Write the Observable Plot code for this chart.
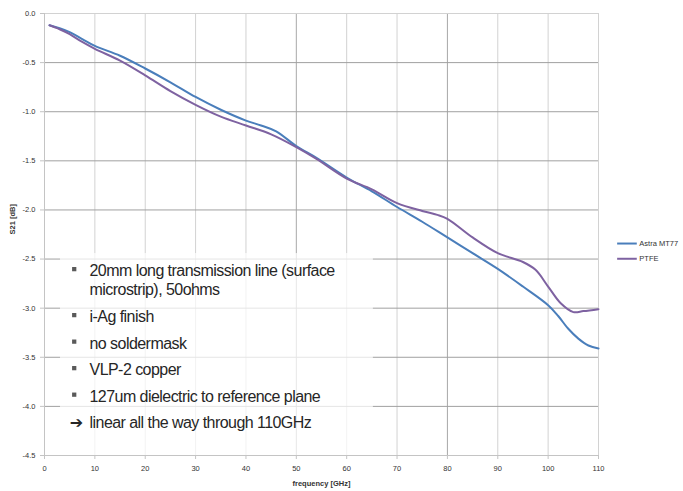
<!DOCTYPE html>
<html><head><meta charset="utf-8">
<script src="https://cdn.jsdelivr.net/npm/d3@7"></script>
<script src="https://cdn.jsdelivr.net/npm/@observablehq/plot@0.6"></script>
<style>
body{margin:0;background:#fff;}
.note text{letter-spacing:-0.55px;}
</style></head><body><div id="chart"></div>
<script>
// ---- data ----
const seriesNames = ["Astra MT77", "PTFE"];
const seriesColors = ["#4a7ebb", "#7e62a1"];
const freqAstra = [1,3,5,7.5,10,15,20,25,30,35,40,43,46,50,54,60,65,70,75,80,85,90,95,100,102,104,106,108,110];
const s21Astra  = [-0.12,-0.15,-0.19,-0.26,-0.33,-0.43,-0.56,-0.70,-0.85,-0.98,-1.09,-1.14,-1.20,-1.35,-1.47,-1.67,-1.81,-1.97,-2.12,-2.28,-2.44,-2.60,-2.78,-2.97,-3.08,-3.21,-3.31,-3.38,-3.41];
const freqPtfe  = [1,3,5,7.5,10,15,20,25,30,35,40,45,50,54,60,65,70,75,78,80,85,90,95,97.5,100,102.5,105,107,110];
const s21Ptfe   = [-0.12,-0.16,-0.21,-0.29,-0.36,-0.48,-0.63,-0.79,-0.93,-1.05,-1.14,-1.23,-1.36,-1.48,-1.68,-1.79,-1.93,-2.01,-2.05,-2.09,-2.28,-2.44,-2.53,-2.61,-2.78,-2.95,-3.04,-3.03,-3.01];
const xTicks = [0,10,20,30,40,50,60,70,80,90,100,110];
const yTicks = [0,-0.5,-1,-1.5,-2,-2.5,-3,-3.5,-4,-4.5];
const xLabel = "frequency [GHz]";
const yLabel = "S21 [dB]";
const notes = [
  "20mm long transmission line (surface\nmicrostrip), 50ohms",
  "i-Ag finish",
  "no soldermask",
  "VLP-2 copper",
  "127um dielectric to reference plane"
];
const conclusionArrow = "➔";
const conclusion = "linear all the way through 110GHz";

// ---- layout helpers (data units) ----
const noteX = 8.94, bulletX = 5.9, arrowX = 5.0;
const firstBlockY = -2.711, wrapHalf = 0.093, firstSingleY = -3.086, noteStep = 0.27;
const noteY = (d, i) => i === 0 ? firstBlockY : firstSingleY - noteStep * (i - 1);
const bulletY = (d, i) => i === 0 ? firstBlockY + wrapHalf : firstSingleY - noteStep * (i - 1);
const conclusionY = firstSingleY - noteStep * (notes.length - 1);
const legendX1 = 113.8, legendX2 = 117.7, legendTextX = 118.1, legendTop = -2.342, legendStep = 0.155;

const rows = [
  ...freqAstra.map((f, i) => ({f, v: s21Astra[i], s: seriesNames[0]})),
  ...freqPtfe.map((f, i) => ({f, v: s21Ptfe[i], s: seriesNames[1]}))
];

const plot = Plot.plot({
  width: 683, height: 491,
  marginLeft: 44, marginRight: 85, marginTop: 13, marginBottom: 36,
  style: {fontFamily: "'Liberation Sans', Arial, sans-serif", fontSize: "7.5px", background: "#fff", color: "#333"},
  x: {domain: [0, 110]},
  y: {domain: [-4.5, 0]},
  color: {domain: seriesNames, range: seriesColors},
  marks: [
    // grid
    Plot.ruleX(xTicks.filter(d => d > 0 && d !== 50 && d !== 80), {stroke: "#d2d2d2"}),
    Plot.ruleX(xTicks.filter(d => d === 50 || d === 80), {stroke: "#a8a8a8"}),
    Plot.ruleY(yTicks.filter(d => d < 0 && d > -4.5), {stroke: "#a0a0a0"}),
    Plot.ruleY([0], {stroke: "#d2d2d2"}),
    Plot.ruleX([0], {stroke: "#c4c4c4"}),
    Plot.ruleY([-4.5], {stroke: "#c4c4c4"}),
    // axes
    Plot.axisX({ticks: xTicks, tickSize: 4, tickPadding: 6, stroke: "#c4c4c4", fill: "#333", label: null}),
    Plot.axisY({ticks: yTicks, tickSize: 4, tickPadding: 5, tickFormat: d => d.toFixed(1), stroke: "#c4c4c4", fill: "#333", label: null}),
    Plot.text([xLabel], {frameAnchor: "bottom", dy: 30, fontWeight: "bold", fill: "#333", fontSize: 7.5}),
    Plot.text([yLabel], {frameAnchor: "left", dx: -32, rotate: -90, fontWeight: "bold", fill: "#333", fontSize: 7.5}),
    // series
    Plot.line(rows, {x: "f", y: "v", stroke: "s", strokeWidth: 2, curve: "catmull-rom"}),
    // annotation box
    Plot.rect([0], {x1: 3.18, x2: 65.3, y1: -2.444, y2: -4.5, fill: "white", fillOpacity: 0.72}),
    Plot.dot(notes, {x: bulletX, y: bulletY, symbol: "square", r: 2.4, fill: "#5a5a5a", dy: -1.5}),
    Plot.text(notes, {x: noteX, y: noteY, text: d => d, textAnchor: "start", lineAnchor: "middle", lineHeight: 1.14, fontSize: 16, fill: "#262626", className: "note"}),
    Plot.text([conclusionArrow], {x: arrowX, y: conclusionY, textAnchor: "start", fontSize: 16, fill: "#262626", fontFamily: "'DejaVu Sans', sans-serif"}),
    Plot.text([conclusion], {x: noteX, y: conclusionY, textAnchor: "start", fontSize: 16, fill: "#262626", className: "note"}),
    // legend
    Plot.ruleY(seriesNames, {y: (d, i) => legendTop - legendStep * i, x1: legendX1, x2: legendX2, stroke: d => d, strokeWidth: 2}),
    Plot.text(seriesNames, {x: legendTextX, y: (d, i) => legendTop - legendStep * i, text: d => d, textAnchor: "start", fill: "#333", fontSize: 7.5})
  ]
});
document.getElementById("chart").appendChild(plot);
</script></body></html>
